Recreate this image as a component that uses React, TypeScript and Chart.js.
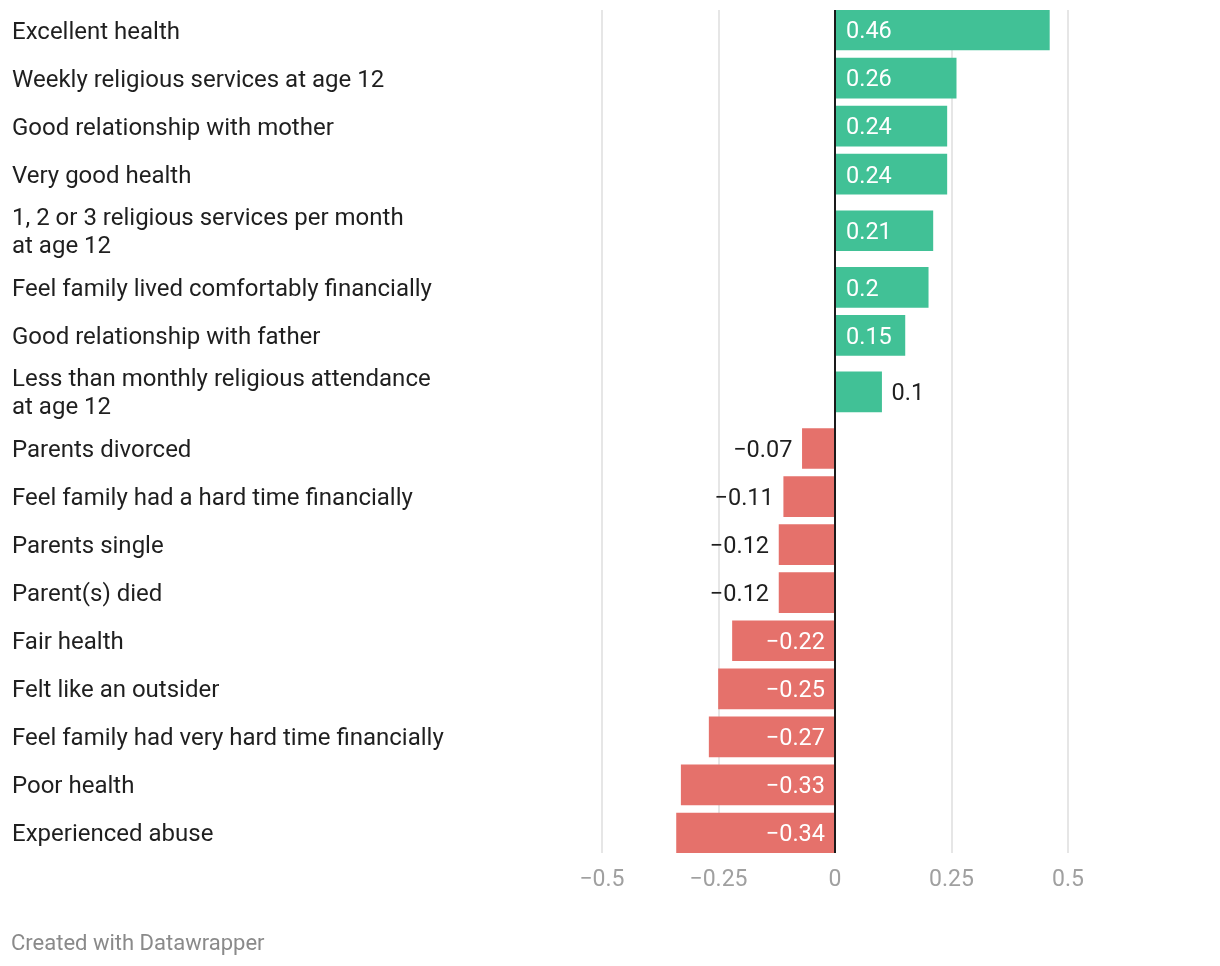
import React, { useEffect, useRef } from "react";
import { Chart, registerables } from "chart.js";

Chart.register(...registerables);

const categories: string[] = [
  "Excellent health",
  "Weekly religious services at age 12",
  "Good relationship with mother",
  "Very good health",
  "1, 2 or 3 religious services per month\nat age 12",
  "Feel family lived comfortably financially",
  "Good relationship with father",
  "Less than monthly religious attendance\nat age 12",
  "Parents divorced",
  "Feel family had a hard time financially",
  "Parents single",
  "Parent(s) died",
  "Fair health",
  "Felt like an outsider",
  "Feel family had very hard time financially",
  "Poor health",
  "Experienced abuse",
];

const values: number[] = [
  0.46, 0.26, 0.24, 0.24, 0.21, 0.2, 0.15, 0.1, -0.07, -0.11, -0.12, -0.12,
  -0.22, -0.25, -0.27, -0.33, -0.34,
];

const xTickValues: number[] = [-0.5, -0.25, 0, 0.25, 0.5];

const footerText = "Created with Datawrapper";

// layout / style
const W = 1220;
const H = 966;
const ROW_H = 48;
const EXTRA_LINE_H = 17;
const BAR_PAD = 4;
const FONT = "Roboto, 'Noto Sans', sans-serif";
const LABEL_SIZE = 24;
const VALUE_SIZE = 23.5;
const TICK_SIZE = 23;
const FOOTER_SIZE = 22;
const POS_COLOR = "#41c196";
const NEG_COLOR = "#e5716b";
const TEXT_COLOR = "#1f1f1f";

function fmt(v: number): string {
  const s = String(Math.abs(v));
  return v < 0 ? "\u2212" + s : s;
}

// row centers derived from the number of label lines
function rowCenters(): number[] {
  const out: number[] = [];
  let top = 0;
  categories.forEach((c) => {
    const lines = c.split("\n").length;
    const h = ROW_H + (lines - 1) * EXTRA_LINE_H;
    out.push(top + h / 2);
    top += h;
  });
  return out;
}

function totalRows(): number {
  return categories.reduce(
    (acc, c) => acc + ROW_H + (c.split("\n").length - 1) * EXTRA_LINE_H,
    0
  );
}

export default function App() {
  const ref = useRef<HTMLCanvasElement | null>(null);

  useEffect(() => {
    if (!ref.current) return;
    const centers = rowCenters();
    const total = totalRows();

    const labelPlugin = {
      id: "dwLabels",
      afterDatasetsDraw(chart: any) {
        const ctx = chart.ctx as CanvasRenderingContext2D;
        const xs = chart.scales.x;
        const area = chart.chartArea;
        const meta = chart.getDatasetMeta(0);
        const x0 = xs.getPixelForValue(0);
        ctx.save();
        // zero line
        ctx.strokeStyle = "#1a1a1a";
        ctx.lineWidth = 2;
        ctx.beginPath();
        ctx.moveTo(x0, area.top);
        ctx.lineTo(x0, area.bottom);
        ctx.stroke();

        ctx.textBaseline = "alphabetic";
        meta.data.forEach((bar: any, i: number) => {
          const v = values[i];
          const text = fmt(v);
          ctx.font = `${VALUE_SIZE}px ${FONT}`;
          const tw = ctx.measureText(text).width;
          const barW = Math.abs(bar.x - bar.base);
          const inside = tw + 20 <= barW;
          const y = bar.y + VALUE_SIZE * 0.355;
          if (v >= 0) {
            ctx.textAlign = "left";
            if (inside) {
              ctx.fillStyle = "#ffffff";
              ctx.fillText(text, x0 + 11, y);
            } else {
              ctx.fillStyle = TEXT_COLOR;
              ctx.fillText(text, bar.x + 10, y);
            }
          } else {
            ctx.textAlign = "right";
            if (inside) {
              ctx.fillStyle = "#ffffff";
              ctx.fillText(text, x0 - 10, y);
            } else {
              ctx.fillStyle = TEXT_COLOR;
              ctx.fillText(text, bar.x - 10, y);
            }
          }
          // category labels
          ctx.font = `${LABEL_SIZE}px ${FONT}`;
          const lines = categories[i].split("\n");
          ctx.fillStyle = TEXT_COLOR;
          ctx.textAlign = "left";
          const lh = 28;
          lines.forEach((ln, k) => {
            const ly = bar.y + (k - (lines.length - 1) / 2) * lh + LABEL_SIZE * 0.355;
            ctx.fillText(ln, 12, ly);
          });
        });

        // footer
        ctx.font = `${FOOTER_SIZE}px ${FONT}`;
        ctx.fillStyle = "#8a8a8a";
        ctx.textAlign = "left";
        ctx.fillText(footerText, 11, 942 + FOOTER_SIZE * 0.355);
        ctx.restore();
      },
    };

    const chart = new Chart(ref.current, {
      type: "bar",
      data: {
        datasets: [
          {
            data: values.map((v, i) => ({ x: v, y: centers[i] })),
            backgroundColor: values.map((v) => (v >= 0 ? POS_COLOR : NEG_COLOR)),
            barThickness: ROW_H - 2 * BAR_PAD,
            borderWidth: 0,
          },
        ],
      },
      options: {
        indexAxis: "y",
        responsive: false,
        animation: false,
        devicePixelRatio: 1,
        layout: { padding: { left: 602, right: 152, top: 10, bottom: 63 } },
        plugins: { legend: { display: false }, tooltip: { enabled: false } },
        scales: {
          x: {
            type: "linear",
            min: -0.5,
            max: 0.5,
            afterBuildTicks: (scale: any) => {
              scale.ticks = xTickValues.map((v) => ({ value: v }));
            },
            afterFit: (scale: any) => {
              scale.height = 50;
            },
            grid: {
              color: "#e6e6e6",
              lineWidth: 2,
              drawTicks: false,
            },
            border: { display: false },
            ticks: {
              color: "#a0a0a0",
              padding: 13,
              font: { family: FONT, size: TICK_SIZE },
              callback: (v: any) => fmt(Number(v)),
            },
          },
          y: {
            type: "linear",
            reverse: true,
            offset: false,
            grace: 0,
            min: BAR_PAD,
            max: total - BAR_PAD,
            display: false,
          },
        },
      },
      plugins: [labelPlugin],
    } as any);

    return () => chart.destroy();
  }, []);

  return (
    <div style={{ position: "fixed", left: 0, top: 0, width: W, height: H, background: "#fff" }}>
      <canvas ref={ref} width={W} height={H} style={{ width: W, height: H, display: "block" }} />
    </div>
  );
}
